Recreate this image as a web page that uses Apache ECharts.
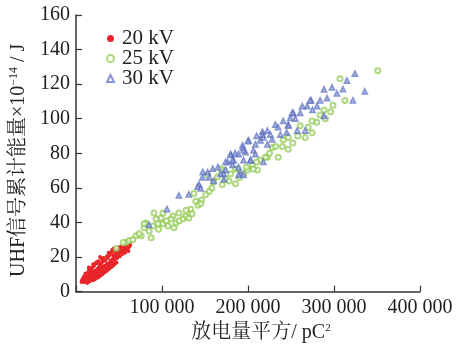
<!DOCTYPE html>
<html><head><meta charset="utf-8">
<script src="https://cdn.jsdelivr.net/npm/echarts@6/dist/echarts.min.js"></script>
<style>html,body{margin:0;padding:0;background:#fff}#c{width:459px;height:348px}</style>
</head><body><div id="c"></div>
<script>
const legendNames = ['20 kV','25 kV','30 kV'];
const xTicks = [0,100000,200000,300000,400000];
const yTicks = [0,20,40,60,80,100,120,140,160];

const kv20 = [[8000,6],[9000,5.5],[9500,7],[10000,6.2],[10500,8],[11000,5.8],[11500,7.2],[12000,6.5],[12500,8.5],[13000,7],[13500,6],[14000,8],[14500,9.2],[15000,7.2],[15500,6.5],[16000,8.6],[16500,10],[17000,7.8],[17500,9],[18000,6.8],[18500,8.2],[19000,10.5],[19500,9.2],[20000,7.5],[20500,11],[21000,8.5],[21500,9.8],[22000,12],[22500,8],[23000,10.5],[23500,9],[24000,11.5],[24500,13],[25000,9.6],[25500,10.8],[26000,12.5],[26500,14],[27000,11],[27500,15.5],[28000,10.2],[28500,12],[29000,13.5],[29500,16.5],[30000,11.5],[30500,12.8],[31000,14.5],[31500,17.5],[32000,12],[33000,13.5],[33500,15],[34000,18],[35000,13],[35500,14.5],[36000,16],[37000,19.5],[38000,14.8],[38500,16.5],[39000,21],[40000,15.5],[40500,18],[41000,22.5],[42000,17],[43000,19],[43500,21],[44000,16.5],[45000,18.5],[45500,23],[46000,20],[47000,22],[48000,19.5],[48500,24],[49000,21.5],[50000,23],[51000,20.5],[52000,22.8],[53000,24.5],[54000,21.8],[55000,23.5],[56000,25.5],[57000,22.5],[58000,24.2],[59000,26.5],[60000,25],[61000,23.5],[62000,26],[63000,27],[10000,9],[12000,10],[14000,11],[15000,12.5],[17000,13],[19000,13.8],[21000,15],[23000,16.2],[24000,17],[13000,5],[16000,5.8],[20000,6.5],[22000,7.2],[25000,8],[27000,8.8],[29000,9.5],[31000,10.2],[33000,11],[35000,11.8],[37000,12.6],[39000,13.4],[41000,14.2],[43000,15],[45000,15.9],[47000,16.8],[26000,17.5],[30000,18.8],[32000,19.5],[36000,20.5],[38000,22.5],[42000,24],[44000,25],[50000,25.5],[52000,26],[28000,20],[18000,11.5],[11000,10.5],[9000,8.5],[7000,6.5],[8000,7.5],[6500,5.5],[15000,14],[18000,13.6],[20000,15.8],[23700,16.5]];

const kv25 = [[350900,127.7],[306900,123.1],[312700,110.6],[298800,107.8],[288400,105],[283800,102.1],[274500,98.7],[260700,95.9],[274500,91.9],[266500,89.1],[246800,89.1],[241000,87.9],[246800,82.3],[228300,83.4],[222500,77.7],[235200,77.7],[211000,70.4],[199400,70.4],[187900,70.9],[171700,70.4],[220200,77.7],[214400,76.0],[205200,73.2],[206300,70.9],[185500,70.9],[194800,68.1],[179800,68.1],[168200,70.9],[164700,66.4],[174000,65.3],[160100,63.5],[185500,62.4],[153200,67.5],[137000,56.7],[150900,56.2],[139300,52.2],[133500,47.7],[127700,43.7],[119600,45.4],[112700,43.7],[110400,42.0],[116200,39.7],[124300,42.0],[131200,42.6],[113900,36.9],[106900,38.0],[98800,42.6],[93100,42.0],[90700,45.4],[101200,45.4],[95400,39.2],[89600,38.0],[81500,39.7],[79200,36.9],[101200,39.2],[69900,32.3],[75700,32.3],[87300,31.2],[58400,28.4],[73400,33.5],[79200,39.2],[61800,29.5],[46800,25.0],[54900,28.4],[142000,50],[146000,53],[155000,58],[158000,60],[170000,62],[178000,64],[190000,66],[198000,72],[210000,75],[225000,80],[232000,84],[240000,84],[252000,86],[258000,90],[270000,95],[280000,98],[290000,100],[296000,104],[120000,41],[105000,41],[96000,36],[85000,35],[66000,30],[128000,47],[135000,45],[145000,51]];

const kv30 = [[324300,126],[315000,122],[335800,115.7],[322000,110.6],[310400,117],[303400,114.6],[297700,118],[288400,116.9],[291900,111.8],[283800,110.6],[273400,110.6],[280300,107.2],[268800,107.2],[263000,107.2],[260700,103.3],[252600,103.3],[288400,101.6],[249100,100.4],[241000,98.7],[246800,96.5],[231800,96.5],[266500,93.1],[222500,93.1],[216800,92.5],[272200,110.6],[251400,103.3],[246800,95.9],[226000,90.8],[237600,90.8],[257200,93.1],[216800,90.8],[214400,87.4],[217900,89.1],[208600,85.1],[222500,85.1],[200600,87.4],[193600,84.5],[197100,80.6],[206300,81.7],[208600,79.4],[189000,79.4],[179800,79.4],[183200,76.0],[194800,76.0],[176300,74.9],[202900,76.0],[217900,74.9],[182100,73.2],[174000,70.4],[191300,68.1],[171700,68.1],[194800,67.5],[200000,87],[194000,83],[195000,81.7],[180000,79],[182000,76],[174000,75],[203000,76],[189000,72],[159000,71],[153000,69],[168000,68],[147000,66],[189000,67.5],[172000,65],[143000,62],[147400,69.2],[141600,60.7],[145100,59.6],[119600,55.6],[131200,56.2],[105800,47.7],[85000,38.6],[160000,64],[155000,66],[165000,72],[185000,80],[210000,90],[228000,88],[235000,95],[255000,100],[275000,105],[245000,92]];

const FONT = '"Liberation Serif","Noto Serif CJK SC","Noto Sans CJK SC",serif';
const fmt = v => v === 0 ? '' : String(v).replace(/\B(?=(\d{3})+(?!\d))/g, ' ');

const chart = echarts.init(document.getElementById('c'), null, {renderer:'canvas'});
chart.setOption({
  animation:false,
  backgroundColor:'#fff',
  grid:{left:75,right:39,top:15,bottom:51,containLabel:false},
  legend:{
    left:101,top:23,orient:'vertical',itemGap:-1,itemWidth:7,itemHeight:7,
    textStyle:{fontFamily:FONT,fontSize:21,color:'#222',padding:[0,0,0,3]},
    data:legendNames
  },
  xAxis:{
    type:'value',min:0,max:400000,interval:100000,
    name:'放电量平方/ pC{sup|2}',nameLocation:'middle',nameGap:20,
    nameTextStyle:{fontFamily:FONT,fontSize:20,color:'#222',verticalAlign:'top',padding:[0,0,0,26],
      rich:{sup:{fontFamily:FONT,fontSize:11,color:'#222',verticalAlign:'top',padding:[0,0,10,0]}}},
    axisLine:{show:true,lineStyle:{color:'#333',width:1.5}},
    axisTick:{show:true,inside:true,length:6,lineStyle:{color:'#333',width:1.2}},
    axisLabel:{fontFamily:FONT,fontSize:20,color:'#222',margin:6,formatter:fmt},
    splitLine:{show:false}
  },
  yAxis:{
    type:'value',min:0,max:160,interval:20,
    name:'UHF信号累计能量×10{sup|−14} / J',nameLocation:'middle',nameGap:46,nameRotate:90,
    nameTextStyle:{fontFamily:FONT,fontSize:20,color:'#222',padding:[0,14,0,0],
      rich:{sup:{fontFamily:FONT,fontSize:12,color:'#222',verticalAlign:'top',padding:[0,0,10,0]}}},
    axisLine:{show:true,lineStyle:{color:'#333',width:1.5}},
    axisTick:{show:true,inside:true,length:6,lineStyle:{color:'#333',width:1.2}},
    axisLabel:{fontFamily:FONT,fontSize:20,color:'#222',margin:6},
    splitLine:{show:false}
  },
  series:[
    {name:legendNames[0],type:'scatter',data:kv20,symbol:'circle',symbolSize:4,
     itemStyle:{color:'#e8262a',opacity:1}},
    {name:legendNames[1],type:'scatter',data:kv25,symbol:'emptyCircle',symbolSize:5,
     itemStyle:{color:'#8cc84b',borderColor:'#8cc84b',borderWidth:0.9,opacity:0.7}},
    {name:legendNames[2],type:'scatter',data:kv30,symbol:'emptyTriangle',symbolSize:4.5,
     itemStyle:{color:'#5468bd',borderColor:'#5468bd',borderWidth:0.9,opacity:0.7}}
  ]
});
</script></body></html>
